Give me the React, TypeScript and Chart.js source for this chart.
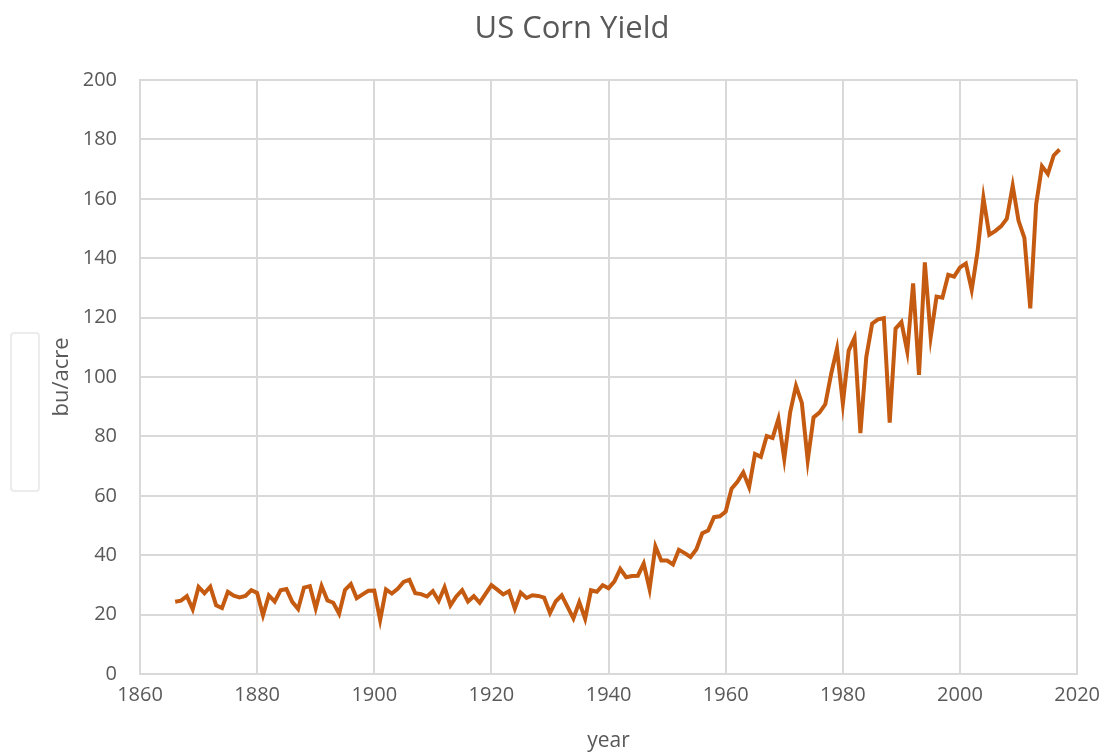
import React, { useEffect, useRef } from "react";
import { Chart, registerables } from "chart.js";

Chart.register(...registerables);

const FIRST_YEAR = 1866;
const yields: number[] = [
  24.3, 24.7, 26.2, 21.8, 29.3, 27.2, 29.4, 23.1, 22.2, 27.7,
  26.4, 25.8, 26.3, 28.2, 27.3, 19.8, 26.5, 24.4, 28.2, 28.6,
  24.3, 21.9, 29.1, 29.6, 22.1, 29.6, 24.8, 24.0, 20.3, 28.3,
  30.3, 25.5, 26.8, 28.0, 28.1, 18.2, 28.5, 27.1, 28.7, 31.0,
  31.7, 27.2, 26.9, 26.1, 27.9, 24.6, 29.2, 23.1, 26.1, 28.2,
  24.4, 26.2, 24.0, 27.0, 29.9, 28.4, 26.8, 27.9, 22.0, 27.4,
  25.6, 26.5, 26.3, 25.7, 20.5, 24.5, 26.5, 22.6, 18.7, 24.2,
  18.6, 28.2, 27.7, 29.9, 28.9, 31.2, 35.4, 32.6, 33.0, 33.1,
  37.2, 28.6, 43.0, 38.2, 38.2, 36.9, 41.8, 40.7, 39.4, 42.0,
  47.4, 48.3, 52.8, 53.1, 54.7, 62.4, 64.7, 67.9, 62.9, 74.1,
  73.1, 80.1, 79.5, 85.9, 72.4, 88.1, 97.0, 91.3, 71.9, 86.4,
  88.0, 90.8, 101.0, 109.5, 91.0, 108.9, 113.2, 81.1, 106.7, 118.0,
  119.4, 119.8, 84.6, 116.3, 118.5, 108.6, 131.5, 100.7, 138.6, 113.5,
  127.1, 126.7, 134.4, 133.8, 136.9, 138.2, 129.3, 142.2, 160.3, 147.9,
  149.1, 150.7, 153.3, 164.4, 152.6, 146.8, 123.1, 158.1, 171.0, 168.4,
  174.6, 176.6,
];
const years: number[] = yields.map((_, i) => FIRST_YEAR + i);

const TITLE = "US Corn Yield";
const X_TITLE = "year";
const Y_TITLE = "bu/acre";
const X_MIN = 1860;
const X_MAX = 2020;
const X_STEP = 20;
const Y_MIN = 0;
const Y_MAX = 200;
const Y_STEP = 20;

const TEXT = "#595959";
const GRID = "#d9d9d9";
const LINE = "#c55a11";
const FONT = "'Open Sans', 'DejaVu Sans', sans-serif";

const titleAndBox = {
  id: "titleAndBox",
  afterDraw(chart: any) {
    const ctx = chart.ctx;
    ctx.save();
    // chart title
    ctx.fillStyle = TEXT;
    ctx.font = `31px ${FONT}`;
    ctx.textAlign = "center";
    ctx.textBaseline = "middle";
    ctx.fillText(TITLE, 572, 29);
    // faint empty box at left edge
    ctx.strokeStyle = "#ececec";
    ctx.lineWidth = 2;
    ctx.beginPath();
    const x = 11, y = 333, w = 28, h = 158, r = 3;
    ctx.moveTo(x + r, y);
    ctx.arcTo(x + w, y, x + w, y + h, r);
    ctx.arcTo(x + w, y + h, x, y + h, r);
    ctx.arcTo(x, y + h, x, y, r);
    ctx.arcTo(x, y, x + w, y, r);
    ctx.closePath();
    ctx.stroke();
    ctx.restore();
  },
};

export default function App() {
  const ref = useRef<HTMLCanvasElement>(null);
  useEffect(() => {
    if (!ref.current) return;
    const chart = new Chart(ref.current, {
      type: "line",
      data: {
        datasets: [
          {
            data: years.map((yr, i) => ({ x: yr, y: yields[i] })),
            borderColor: LINE,
            backgroundColor: LINE,
            borderWidth: 4,
            pointRadius: 0,
            tension: 0,
          },
        ],
      },
      options: {
        animation: false,
        responsive: true,
        maintainAspectRatio: false,
        layout: { padding: { top: 80, left: 0, right: 28, bottom: 0 } },
        plugins: {
          legend: { display: false },
          tooltip: { enabled: false },
          title: { display: false },
        },
        scales: {
          x: {
            type: "linear",
            min: X_MIN,
            max: X_MAX,
            afterFit: (s: any) => { s.height = 81; },
            ticks: {
              stepSize: X_STEP,
              color: TEXT,
              padding: 9,
              font: { family: FONT, size: 20 },
              callback: (v: any) => String(v),
              maxRotation: 0,
            },
            grid: { color: GRID, lineWidth: 2, drawTicks: false },
            border: { display: true, color: GRID, width: 2 },
            title: {
              display: true,
              text: X_TITLE,
              color: TEXT,
              font: { family: FONT, size: 21 },
              padding: { top: 0, bottom: 1 },
            },
          },
          y: {
            type: "linear",
            min: Y_MIN,
            max: Y_MAX,
            afterFit: (s: any) => { s.width = 140; },
            ticks: {
              stepSize: Y_STEP,
              color: TEXT,
              padding: 23,
              font: { family: FONT, size: 20 },
            },
            grid: { color: GRID, lineWidth: 2, drawTicks: false },
            border: { display: true, color: GRID, width: 2 },
            title: {
              display: true,
              text: Y_TITLE,
              color: TEXT,
              font: { family: FONT, size: 22 },
              padding: { top: 49, bottom: 0 },
            },
          },
        },
      },
      plugins: [titleAndBox],
    });
    return () => chart.destroy();
  }, []);
  return (
    <div style={{ position: "fixed", left: 0, top: 0, width: 1109, height: 755, background: "#fff" }}>
      <canvas ref={ref} />
    </div>
  );
}
